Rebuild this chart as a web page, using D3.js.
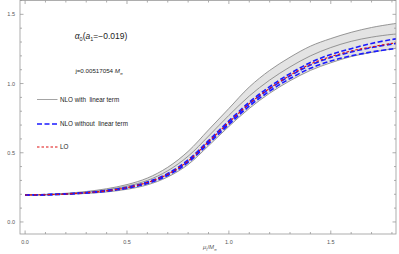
<!DOCTYPE html>
<html>
<head>
<meta charset="utf-8">
<script src="https://cdn.jsdelivr.net/npm/d3@7"></script>
<style>
  body { margin: 0; background: #fff; }
  text { font-family: "Liberation Sans", Arial, sans-serif; }
</style>
</head>
<body>
<div id="container"></div>
<script>
// alpha0 vs muI/Mpi, NLO band vs LO

const muX = [0, 0.1, 0.2, 0.3, 0.4, 0.5, 0.6, 0.7, 0.8, 0.9, 1.0, 1.1, 1.2, 1.3, 1.4, 1.5, 1.6, 1.7, 1.8, 1.85]

const nloLinUpper = [0.195, 0.199, 0.207, 0.22, 0.24, 0.27, 0.317, 0.395, 0.51, 0.665, 0.82, 0.975, 1.095, 1.19, 1.27, 1.325, 1.37, 1.405, 1.43, 1.44]
const nloLinMid   = [0.195, 0.198, 0.204, 0.215, 0.232, 0.259, 0.30, 0.37, 0.475, 0.62, 0.77, 0.91, 1.025, 1.12, 1.2, 1.26, 1.305, 1.335, 1.355, 1.36]
const nloLinLower = [0.195, 0.195, 0.199, 0.206, 0.217, 0.236, 0.268, 0.325, 0.415, 0.55, 0.69, 0.82, 0.93, 1.02, 1.095, 1.15, 1.195, 1.225, 1.25, 1.26]

const nloUpper = [0.195, 0.198, 0.203, 0.213, 0.228, 0.251, 0.289, 0.35, 0.448, 0.588, 0.73, 0.865, 0.978, 1.072, 1.152, 1.21, 1.252, 1.29, 1.318, 1.328]
const nloMid   = [0.195, 0.197, 0.202, 0.211, 0.225, 0.247, 0.283, 0.343, 0.438, 0.577, 0.717, 0.851, 0.962, 1.055, 1.133, 1.188, 1.228, 1.26, 1.285, 1.295]
const nloLower = [0.195, 0.196, 0.201, 0.209, 0.222, 0.243, 0.278, 0.336, 0.43, 0.566, 0.704, 0.836, 0.945, 1.036, 1.11, 1.163, 1.2, 1.228, 1.25, 1.26]

const lo = [0.195, 0.197, 0.202, 0.211, 0.225, 0.248, 0.285, 0.345, 0.44, 0.58, 0.72, 0.855, 0.965, 1.06, 1.14, 1.195, 1.235, 1.265, 1.29, 1.30]

const xTicks = [0, 0.5, 1.0, 1.5]
const yTicks = [0, 0.5, 1.0, 1.5]

const width = 399, height = 254
const plot = { left: 20, right: 396, top: 0.5, bottom: 234 }

const svg = d3.select("#container").append("svg")
    .attr("width", width)
    .attr("height", height)

const x = d3.scaleLinear().domain([-0.025, 1.82]).range([plot.left, plot.right])
const y = d3.scaleLinear().domain([-0.087, 1.6]).range([plot.bottom, plot.top])

svg.append("clipPath").attr("id", "clip")
    .append("rect")
    .attr("x", plot.left).attr("y", plot.top)
    .attr("width", plot.right - plot.left).attr("height", plot.bottom - plot.top)

const curves = svg.append("g").attr("clip-path", "url(#clip)")

const line = (vals) => d3.line()
    .x((d, i) => x(muX[i]))
    .y((d) => y(d))
    .curve(d3.curveCatmullRom)(vals)

const area = d3.area()
    .x((d, i) => x(muX[i]))
    .y0((d, i) => y(nloLinLower[i]))
    .y1((d) => y(d))
    .curve(d3.curveCatmullRom)

curves.append("path")
    .attr("d", area(nloLinUpper))
    .attr("fill", "#e3e3e3")

;[nloLinUpper, nloLinMid, nloLinLower].forEach((s) => {
    curves.append("path").attr("d", line(s))
        .attr("fill", "none").attr("stroke", "#8a8a8a").attr("stroke-width", 0.9)
})

;[nloUpper, nloMid, nloLower].forEach((s) => {
    curves.append("path").attr("d", line(s))
        .attr("fill", "none").attr("stroke", "#1a1aff").attr("stroke-width", 1.6)
        .attr("stroke-dasharray", "5,2.5")
})

curves.append("path").attr("d", line(lo))
    .attr("fill", "none").attr("stroke", "#e01010").attr("stroke-width", 1.1)
    .attr("stroke-dasharray", "2.5,2")

// frame + ticks
const frame = svg.append("g").attr("stroke", "#999").attr("stroke-width", 0.8)
frame.append("rect")
    .attr("x", plot.left).attr("y", plot.top)
    .attr("width", plot.right - plot.left).attr("height", plot.bottom - plot.top)
    .attr("fill", "none")

const minorX = d3.range(0, 1.85, 0.1)
const minorY = d3.range(-0.0, 1.61, 0.1)

minorX.forEach((v) => {
    const major = xTicks.some((t) => Math.abs(t - v) < 1e-6)
    const len = major ? 3.5 : 2
    frame.append("line").attr("x1", x(v)).attr("x2", x(v))
        .attr("y1", plot.bottom).attr("y2", plot.bottom - len)
    frame.append("line").attr("x1", x(v)).attr("x2", x(v))
        .attr("y1", plot.top).attr("y2", plot.top + len)
})
minorY.forEach((v) => {
    const major = yTicks.some((t) => Math.abs(t - v) < 1e-6)
    const len = major ? 3.5 : 2
    frame.append("line").attr("y1", y(v)).attr("y2", y(v))
        .attr("x1", plot.left).attr("x2", plot.left + len)
    frame.append("line").attr("y1", y(v)).attr("y2", y(v))
        .attr("x1", plot.right).attr("x2", plot.right - len)
})

svg.append("g").selectAll("text").data(xTicks).enter().append("text")
    .attr("x", (d) => x(d)).attr("y", 244)
    .attr("text-anchor", "middle")
    .attr("font-size", 5.5).attr("fill", "#555")
    .text((d) => d.toFixed(1))

svg.append("g").selectAll("text").data(yTicks).enter().append("text")
    .attr("x", 15).attr("y", (d) => y(d) + 2)
    .attr("text-anchor", "end")
    .attr("font-size", 5.5).attr("fill", "#555")
    .text((d) => d.toFixed(1))

// axis label
const xl = svg.append("text").attr("x", 203).attr("y", 249).attr("font-size", 6).attr("fill", "#555")
xl.append("tspan").attr("font-style", "italic").text("μ")
xl.append("tspan").attr("font-size", 4).attr("dy", 1.5).text("I")
xl.append("tspan").attr("dy", -1.5).text("/")
xl.append("tspan").attr("font-style", "italic").text("M")
xl.append("tspan").attr("font-size", 4).attr("dy", 1.5).attr("font-style", "italic").text("π")

// title
const t = svg.append("text").attr("x", 101).attr("y", 38.5).attr("text-anchor", "middle")
    .attr("font-size", 8.5).attr("fill", "#222")
t.append("tspan").attr("font-style", "italic").text("α")
t.append("tspan").attr("font-size", 5.5).attr("dy", 2).text("0")
t.append("tspan").attr("dy", -2).text("(")
t.append("tspan").attr("font-style", "italic").text("a")
t.append("tspan").attr("font-size", 5.5).attr("dy", 2).text("1")
t.append("tspan").attr("dy", -2).text("=−0.019)")

const j = svg.append("text").attr("x", 99).attr("y", 73).attr("text-anchor", "middle")
    .attr("font-size", 6.2).attr("fill", "#222")
j.append("tspan").text("j=0.00517054 ")
j.append("tspan").attr("font-style", "italic").text("M")
j.append("tspan").attr("font-size", 4).attr("dy", 1.5).attr("font-style", "italic").text("π")

// legend
const legendNames = ["NLO with  linear term", "NLO without  linear term", "LO"]
const legendY = [99.5, 124, 147]
const legendStyles = [
    { stroke: "#9a9a9a", w: 0.9, dash: null },
    { stroke: "#1a1aff", w: 1.6, dash: "5,2.5" },
    { stroke: "#e01010", w: 1.1, dash: "2.5,2" },
]
const legend = svg.append("g").attr("id", "legend")
legendNames.forEach((name, i) => {
    legend.append("line")
        .attr("x1", 37).attr("x2", 57.5)
        .attr("y1", legendY[i]).attr("y2", legendY[i])
        .attr("stroke", legendStyles[i].stroke)
        .attr("stroke-width", legendStyles[i].w)
        .attr("stroke-dasharray", legendStyles[i].dash)
    legend.append("text")
        .attr("x", 60).attr("y", legendY[i] + 2.2)
        .attr("font-size", 6.3).attr("fill", "#222")
        .attr("xml:space", "preserve")
        .style("white-space", "pre")
        .text(name)
})
</script>
</body>
</html>
